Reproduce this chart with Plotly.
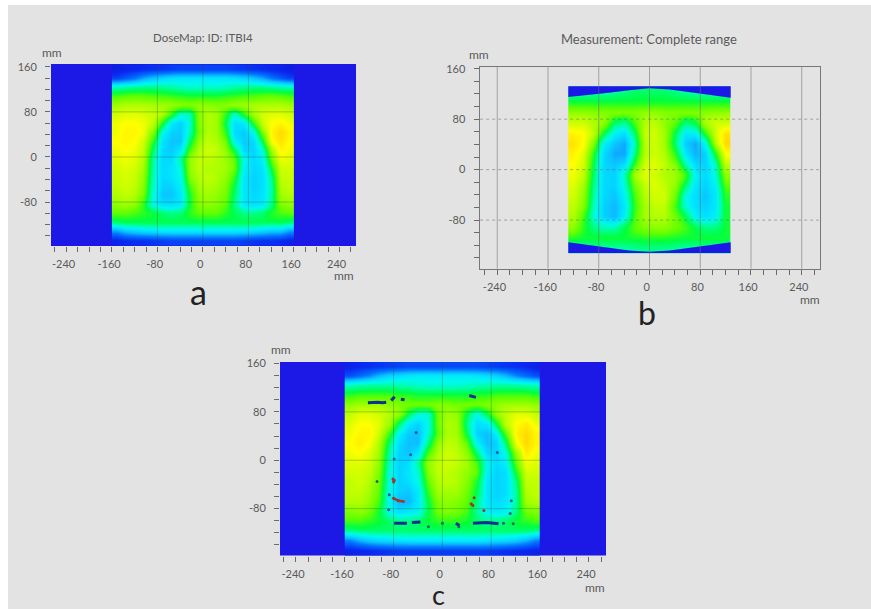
import plotly.graph_objects as go

W, H = 871, 609

# ---------- data ----------
x_edges_ac = list(range(-160, 161, 16))
y_edges_a = [164, 148, 132, 116, 100, 84, 68, 52, 36, 20, 4, -12, -28, -44, -60, -76, -92, -108, -124, -140, -158]

dose_a = [
 [6,8,9,10,11,12,13,14,14,14,14,14,14,13,12,11,10,9,8,6],
 [14,18,22,28,32,35,37,38,38,38,38,38,38,37,35,32,28,22,18,14],
 [47,48,49,50,50,49,48,46,45,45,45,45,46,48,49,50,50,49,48,47],
 [60,62,63,62,61,60,59,58,57,57,57,57,58,59,60,61,62,63,62,60],
 [70,72,72,72,71,70,69,67,66,68,68,66,67,69,70,71,72,72,72,70],
 [76,78,78,77,75,72,58,44,46,66,72,70,58,44,58,71,76,78,78,76],
 [80,82,82,80,74,56,38,34,44,66,72,70,54,36,38,58,76,82,84,80],
 [80,84,84,80,66,42,34,33,46,64,72,70,58,35,33,42,66,84,90,84],
 [82,84,82,76,58,37,32,32,52,68,74,72,64,40,33,35,54,82,88,82],
 [80,82,80,74,52,35,33,38,60,72,76,74,68,54,35,34,44,70,84,80],
 [78,80,78,72,48,35,35,48,68,74,74,72,70,62,42,35,40,64,80,78],
 [76,78,76,70,47,35,37,44,68,74,72,72,70,64,40,35,37,56,76,76],
 [75,77,75,68,46,35,37,42,66,72,74,72,68,58,38,34,36,50,74,75],
 [74,76,74,66,45,34,34,40,60,70,72,70,66,54,38,34,36,48,72,74],
 [72,74,72,64,43,32,32,38,56,68,70,68,64,52,38,35,37,48,70,72],
 [68,70,68,58,42,36,36,38,56,66,68,66,62,50,38,36,38,50,66,68],
 [62,62,60,58,56,52,50,52,58,62,62,62,58,54,50,50,52,58,60,62],
 [52,54,54,54,54,54,54,54,54,54,54,54,54,54,54,54,54,54,54,52],
 [26,32,34,36,37,38,38,38,38,38,38,38,38,38,37,36,34,32,32,26],
 [8,10,11,11,12,13,14,14,14,14,14,14,14,14,13,12,11,11,10,8],
]

x_edges_b = list(range(-128, 129, 16))
y_edges_b = [132.0, 115.5, 99.0, 82.5, 66.0, 49.5, 33.0, 16.5, 0.0, -16.5, -33.0, -49.5, -66.0, -82.5, -99.0, -115.5, -132.0]

dose_b = [
 [46,46,46,47,48,50,52,52,52,52,50,48,47,46,46,46],
 [56,56,56,56,56,56,56,56,56,56,56,56,56,56,56,56],
 [68,68,67,66,66,66,66,68,68,66,66,66,66,67,68,68],
 [76,76,72,68,52,48,60,72,74,68,62,50,54,72,76,76],
 [84,82,74,54,40,36,52,74,76,70,54,38,40,58,76,88],
 [88,82,66,40,32,28,46,72,76,70,52,33,28,42,72,90],
 [84,78,58,35,28,28,50,72,76,72,58,38,29,34,56,82],
 [82,76,54,35,32,36,58,76,78,74,66,48,35,34,46,74],
 [80,74,52,35,34,46,70,78,76,72,70,60,40,35,44,68],
 [78,70,50,35,34,44,64,74,78,74,68,52,37,34,40,62],
 [76,68,48,35,32,40,60,72,76,76,64,42,36,32,38,58],
 [74,66,46,34,30,38,58,70,74,74,60,44,36,34,38,56],
 [72,60,44,34,30,40,60,70,72,72,64,54,40,36,40,56],
 [68,58,50,46,46,54,62,66,68,68,64,60,54,50,50,56],
 [58,56,56,56,56,56,57,58,58,58,57,56,56,56,56,56],
 [48,48,48,48,48,48,49,50,50,50,49,48,48,48,48,48],
]

corner_x = [-128, -96, -64, -32, 0, 32, 64, 96, 128]
corner_top = [115, 118, 122, 126, 129, 127, 123, 118, 114]
corner_bottom = [-115, -120, -124, -128, -130, -128, -124, -120, -115]

y_edges_c = [163, 148, 132, 116, 100, 84, 68, 52, 36, 20, 4, -12, -28, -44, -60, -76, -92, -108, -124, -140, -158]

dose_c = [
 [8,10,11,12,13,14,15,15,15,15,15,15,15,15,14,13,12,11,10,8],
 [16,20,24,30,34,36,38,39,39,39,39,39,39,38,36,34,30,24,20,16],
 [46,47,48,48,48,47,46,45,44,44,44,44,45,46,47,48,48,48,47,46],
 [58,60,60,60,60,58,58,56,56,56,56,56,56,58,58,60,60,60,60,58],
 [68,70,70,70,68,66,64,64,64,66,66,64,64,64,66,68,70,70,70,68],
 [74,78,78,76,72,68,54,44,44,64,70,68,54,42,54,68,74,78,78,74],
 [78,82,82,78,70,52,38,34,42,64,72,70,50,36,38,54,74,82,86,80],
 [80,84,84,76,60,40,33,31,44,62,72,70,54,34,31,40,62,84,90,84],
 [82,85,82,72,52,36,31,31,50,68,74,72,62,40,31,34,52,80,90,84],
 [80,82,78,70,48,34,32,38,60,72,76,74,68,52,35,34,44,68,86,80],
 [78,78,76,68,46,34,36,48,68,74,76,74,70,60,42,35,40,62,80,78],
 [76,76,74,66,44,34,38,44,66,74,74,72,68,62,40,34,36,56,76,76],
 [74,76,72,64,44,34,36,42,62,72,74,72,66,56,38,34,36,50,74,74],
 [74,74,70,62,42,34,32,38,58,70,70,70,64,54,38,34,36,48,72,74],
 [72,72,68,60,42,30,30,38,54,66,68,66,62,50,38,35,38,48,70,72],
 [66,68,64,56,42,36,38,40,54,64,66,64,60,48,40,38,40,50,64,66],
 [60,60,58,56,52,50,50,52,56,58,58,58,56,52,50,50,52,56,58,60],
 [50,52,52,52,52,52,52,52,52,52,52,52,52,52,52,52,52,52,52,50],
 [24,30,34,36,37,38,39,39,39,39,39,39,39,39,38,37,36,34,30,24],
 [8,9,10,11,12,13,13,13,13,13,13,13,13,13,13,12,11,10,9,8],
]

streak_x = [-122,-114,-106,-98,-92,None,-84,-78,None,-68,-62,None,44,50,55,None,
            -79,-68,-58,None,-50,-36,None,50,60,72,84,92,None,22,28,None]
streak_y = [95,96,96,95,96,None,99,105,None,101,100,None,107,106,104,None,
            -104,-104,-104,None,-103,-102,None,-104,-103,-103,-104,-105,None,-104,-108,None]
dot_x = [-43,-52,-79,-107,-87,-88,-23,0,27,100,116,113,111,90]
dot_y = [46,9,2,-35,-57,-82,-110,-104,-110,-104,-105,-67,-88,13]
red_x = [-81,-79,-80,None,-80,-72,-64,None,47,50,None,52,None,68]
red_y = [-31,-33,-36,None,-63,-67,-68,None,-72,-75,None,-62,None,-83]

x_major = [-240, -160, -80, 0, 80, 160, 240]
y_major = [160, 80, 0, -80]
x_tick_all = list(range(-260, 261, 20))
y_tick_all = list(range(-140, 161, 20))

titles = ["DoseMap: ID: ITBI4", "Measurement: Complete range"]
letters = ["a", "b", "c"]

# ---------- appearance ----------
BG = "#e3e3e3"
BLUE = "#1c18e6"
TXT = "#5a5a5a"
FONT = "Lato, 'Open Sans', sans-serif"
colors = [[0.00, "#1010c8"], [0.10, "#0a28f0"], [0.22, "#0078ff"], [0.30, "#10b8ff"], [0.36, "#00e0ff"],
          [0.42, "#00f8f0"], [0.48, "#00ffa0"], [0.55, "#00ff40"], [0.62, "#60ff00"], [0.72, "#b0ff00"],
          [0.82, "#ffff00"], [0.92, "#ffd000"], [1.00, "#ff8000"]]

panels = [
    dict(l=51, r=356, t=64, b=246, xr=[-267, 269], yr=[-158, 165]),
    dict(l=479.5, r=819.5, t=66.5, b=269, xr=[-268, 268], yr=[-157.5, 163.5]),
    dict(l=280, r=606, t=362, b=555.5, xr=[-266, 268], yr=[-157.5, 162.5]),
]


def tick_text(vals, major):
    return [(str(v) + "\u00a0\u00a0") if v in major else "" for v in vals]


fig = go.Figure()
layout = {}
for i, p in enumerate(panels, start=1):
    sfx = "" if i == 1 else str(i)
    layout["xaxis" + sfx] = dict(
        domain=[p["l"] / W, p["r"] / W], range=p["xr"], anchor="y" + sfx,
        tickmode="array", tickvals=x_tick_all, ticktext=tick_text(x_tick_all, x_major),
        ticks="outside", ticklen=5, tickcolor="#6a6a6a", tickwidth=1,
        tickfont=dict(family=FONT, size=11, color=TXT), showgrid=False, zeroline=False,
        showline=i == 2, linecolor="#777777", linewidth=1, mirror=i == 2, ticklabelstandoff=3,
    )
    layout["yaxis" + sfx] = dict(
        domain=[1 - p["b"] / H, 1 - p["t"] / H], range=p["yr"], anchor="x" + sfx,
        tickmode="array", tickvals=y_tick_all, ticktext=[str(v) if v in y_major else "" for v in y_tick_all],
        ticks="outside", ticklen=5, tickcolor="#6a6a6a", tickwidth=1,
        tickfont=dict(family=FONT, size=11, color=TXT), showgrid=False, zeroline=False,
        showline=i == 2, linecolor="#777777", linewidth=1, mirror=i == 2, ticklabelstandoff=6,
    )


def heat(z, xe, ye, ax):
    fig.add_trace(go.Heatmap(z=z, x=xe, y=ye, zmin=0, zmax=100, colorscale=colors, showscale=False,
                             zsmooth="best", xaxis="x" + ax, yaxis="y" + ax, hoverinfo="skip"))


def grid(xs, ys, xspan, yspan, ax, color, dash_h="solid", width=1):
    gx, gy = [], []
    for v in xs:
        gx += [v, v, None]
        gy += [yspan[0], yspan[1], None]
    fig.add_trace(go.Scatter(x=gx, y=gy, mode="lines", line=dict(color=color, width=width),
                             xaxis="x" + ax, yaxis="y" + ax, hoverinfo="skip", showlegend=False))
    gx, gy = [], []
    for v in ys:
        gx += [xspan[0], xspan[1], None]
        gy += [v, v, None]
    fig.add_trace(go.Scatter(x=gx, y=gy, mode="lines", line=dict(color=color, width=width, dash=dash_h),
                             xaxis="x" + ax, yaxis="y" + ax, hoverinfo="skip", showlegend=False))


heat(dose_a, x_edges_ac, y_edges_a, "")
heat(dose_b, x_edges_b, y_edges_b, "2")
heat(dose_c, x_edges_ac, y_edges_c, "3")

fig.add_trace(go.Scatter(x=corner_x + [128, -128], y=corner_top + [132, 132], fill="toself", mode="lines",
                         line=dict(width=0), fillcolor=BLUE, xaxis="x2", yaxis="y2", hoverinfo="skip", showlegend=False))
fig.add_trace(go.Scatter(x=corner_x + [128, -128], y=corner_bottom + [-132, -132], fill="toself", mode="lines",
                         line=dict(width=0), fillcolor=BLUE, xaxis="x2", yaxis="y2", hoverinfo="skip", showlegend=False))

DARK = "rgba(40,80,40,0.3)"
grid([-80, 0, 80], [-80, 0, 80], [-160, 160], [-158, 164], "", DARK)
grid([-240, -160, -80, 0, 80, 160, 240], [-80, 0, 80], [-267, 267], [-157, 163], "2", "rgba(110,110,110,0.55)", "dot")
grid([-80, 0, 80], [-80, 0, 80], [-160, 160], [-157, 162], "3", DARK)

fig.add_trace(go.Scatter(x=streak_x, y=streak_y, mode="lines", xaxis="x3", yaxis="y3", hoverinfo="skip", showlegend=False,
                         line=dict(color="#14308c", width=3)))
fig.add_trace(go.Scatter(x=dot_x, y=dot_y, mode="markers", xaxis="x3", yaxis="y3", hoverinfo="skip", showlegend=False,
                         marker=dict(color="#1a4a7a", size=3, line=dict(width=0), opacity=0.85)))
fig.add_trace(go.Scatter(x=red_x, y=red_y, mode="lines+markers", xaxis="x3", yaxis="y3", hoverinfo="skip", showlegend=False,
                         line=dict(color="#a03a28", width=2.5),
                         marker=dict(color="#a03a28", size=3, line=dict(width=0))))


def label(text, x, y, size, family=FONT, color=TXT):
    return dict(text=text, x=x / W, y=1 - y / H, xref="paper", yref="paper", showarrow=False,
                xanchor="center", yanchor="middle", font=dict(family=family, size=size, color=color))


LET = "Lato, 'Open Sans', sans-serif"
annotations = [
    label(titles[0], 203, 37, 11.5),
    label(titles[1], 649, 39, 13),
    label("mm", 52, 52, 12), label("mm", 344, 275, 12),
    label("mm", 479, 54, 12), label("mm", 810, 299, 12),
    label("mm", 281, 349, 12), label("mm", 595, 587, 12),
    label(letters[0], 198, 291, 34, LET, "#222222"),
    label(letters[1], 647, 312, 32, LET, "#222222"),
    label(letters[2], 438, 594, 27, LET, "#222222"),
]

fig.update_layout(
    width=W, height=H, margin=dict(l=0, r=0, t=0, b=0, autoexpand=False),
    paper_bgcolor="#ffffff", plot_bgcolor=BG, showlegend=False,
    annotations=annotations,
    shapes=[dict(type="rect", xref="paper", yref="paper", x0=8 / W, x1=1, y0=0, y1=1 - 5 / H,
                 fillcolor=BG, line=dict(width=0), layer="below")],
    **layout,
)
fig.add_shape(type="rect", xref="x domain", yref="y domain", x0=0, x1=1, y0=0, y1=1,
              fillcolor=BLUE, line=dict(width=0), layer="below")
fig.add_shape(type="rect", xref="x3 domain", yref="y3 domain", x0=0, x1=1, y0=0, y1=1,
              fillcolor=BLUE, line=dict(width=0), layer="below")

fig.write_html("out.html", config=dict(displayModeBar=False),
               post_script="document.body.style.margin='0';document.body.style.overflow='hidden';")
